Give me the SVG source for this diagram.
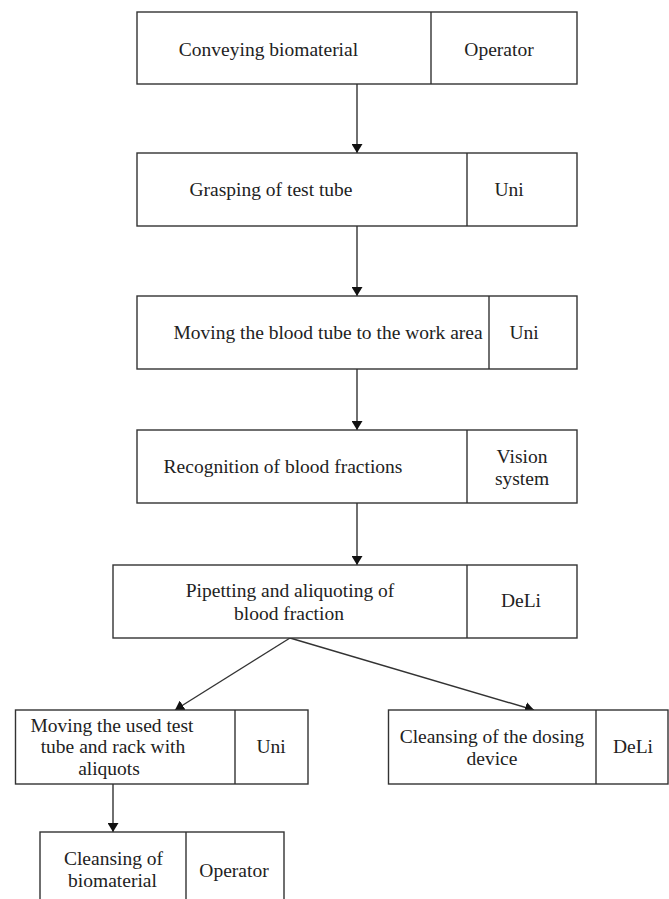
<svg xmlns="http://www.w3.org/2000/svg" width="669" height="899" viewBox="0 0 669 899">
<style>
.box{fill:#fff;stroke:#333;stroke-width:1.4}
.div{stroke:#333;stroke-width:1.4}
.t{font-family:'Liberation Serif','Tinos','DejaVu Serif',serif;font-size:19.5px;fill:#222;text-anchor:middle}
.c{fill:none;stroke:#333;stroke-width:1.4}
</style>
<defs>
<marker id="ah" markerUnits="userSpaceOnUse" markerWidth="10" markerHeight="11" refX="9" refY="5.5" orient="auto">
<path d="M0,0 L9,5.5 L0,11 z" fill="#111"/>
</marker>
</defs>
<rect width="669" height="899" fill="#fff"/>
<g id="connectors">
<line class="c" x1="357" y1="84" x2="357" y2="153" marker-end="url(#ah)"/>
<line class="c" x1="357" y1="226" x2="357" y2="296" marker-end="url(#ah)"/>
<line class="c" x1="357" y1="369" x2="357" y2="430" marker-end="url(#ah)"/>
<line class="c" x1="357" y1="503" x2="357" y2="565" marker-end="url(#ah)"/>
<line class="c" x1="290" y1="638" x2="175" y2="710" marker-end="url(#ah)"/>
<line class="c" x1="290" y1="638" x2="534" y2="710" marker-end="url(#ah)"/>
<line class="c" x1="113" y1="784" x2="113" y2="832" marker-end="url(#ah)"/>
</g>
<g id="n1">
<rect class="box" x="137" y="12" width="440" height="72"/>
<line class="div" x1="431" y1="12" x2="431" y2="84"/>
<text class="t" x="268.5" y="56">Conveying biomaterial</text>
<text class="t" x="499" y="56">Operator</text>
</g>
<g id="n2">
<rect class="box" x="137" y="153" width="440" height="73"/>
<line class="div" x1="467" y1="153" x2="467" y2="226"/>
<text class="t" x="271" y="196">Grasping of test tube</text>
<text class="t" x="509" y="196">Uni</text>
</g>
<g id="n3">
<rect class="box" x="137" y="296" width="440" height="73"/>
<line class="div" x1="489" y1="296" x2="489" y2="369"/>
<text class="t" x="328" y="339">Moving the blood tube to the work area</text>
<text class="t" x="524" y="339">Uni</text>
</g>
<g id="n4">
<rect class="box" x="137" y="430" width="440" height="73"/>
<line class="div" x1="467" y1="430" x2="467" y2="503"/>
<text class="t" x="283" y="473">Recognition of blood fractions</text>
<text class="t" x="522" y="463">Vision</text>
<text class="t" x="522" y="485">system</text>
</g>
<g id="n5">
<rect class="box" x="113" y="565" width="464" height="73"/>
<line class="div" x1="467" y1="565" x2="467" y2="638"/>
<text class="t" x="290" y="597">Pipetting and aliquoting of</text>
<text class="t" x="289" y="620">blood fraction</text>
<text class="t" x="521" y="607">DeLi</text>
</g>
<g id="n6">
<rect class="box" x="15.5" y="710" width="292.5" height="74"/>
<line class="div" x1="235" y1="710" x2="235" y2="784"/>
<text class="t" x="112" y="732">Moving the used test</text>
<text class="t" x="113" y="753">tube and rack with</text>
<text class="t" x="109" y="775">aliquots</text>
<text class="t" x="271" y="753">Uni</text>
</g>
<g id="n7">
<rect class="box" x="388.5" y="710" width="279.5" height="74"/>
<line class="div" x1="596" y1="710" x2="596" y2="784"/>
<text class="t" x="492" y="743">Cleansing of the dosing</text>
<text class="t" x="492" y="765">device</text>
<text class="t" x="633" y="753">DeLi</text>
</g>
<g id="n8">
<rect class="box" x="40" y="832" width="244" height="80"/>
<line class="div" x1="186" y1="832" x2="186" y2="912"/>
<text class="t" x="113.5" y="865">Cleansing of</text>
<text class="t" x="112.5" y="887">biomaterial</text>
<text class="t" x="234" y="877">Operator</text>
</g>
</svg>
